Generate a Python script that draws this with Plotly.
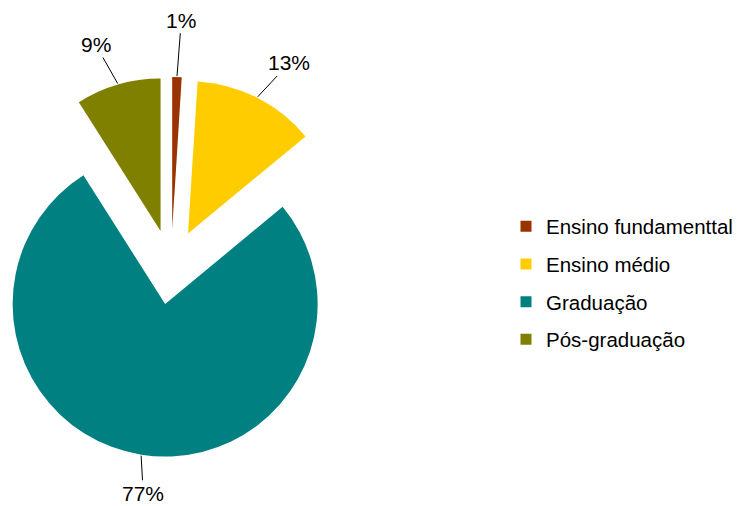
import numpy as np
import plotly.graph_objects as go

# data
categories = ["Ensino fundamenttal", "Ensino médio", "Graduação", "Pós-graduação"]
shares = [1, 13, 77, 9]
colors = ["#993300", "#FFCC00", "#008080", "#808000"]

# layout constants (page pixels); the page body has an 8px margin
OFF = 8
W, H = 743 - OFF, 506 - OFF
CX, CY = 171, 267      # pie centre before the slices are pulled out
R = 152.5              # pie radius
EXPLODE = 37.5         # how far every slice is pulled out
label_gap = [57, 46, 38, 45]       # distance of label beyond the rim
label_turn = [0.7, 3.7, -2.4, -3]  # small angle nudges for the labels (deg)


def px(x, y):
    # page pixel -> paper coordinates
    return (x - OFF) / W, 1 - (y - OFF) / H


vals = np.array(shares, dtype=float)
frac = vals / vals.sum()
start = np.concatenate([[0], np.cumsum(frac)[:-1]])
mid_deg = (start + frac / 2) * 360
mid = np.radians(mid_deg)
ux, uy = np.sin(mid), -np.cos(mid)

fig = go.Figure()
annotations = []
for i, cat in enumerate(categories):
    # each slice is drawn by its own pie trace so it can sit at its own centre
    cx = CX + EXPLODE * ux[i]
    cy = CY + EXPLODE * uy[i]
    slice_colors = ["rgba(0,0,0,0)"] * len(categories)
    slice_colors[i] = colors[i]
    x0, y1 = px(cx - R, cy - R)
    x1, y0 = px(cx + R, cy + R)
    fig.add_trace(go.Pie(
        labels=categories, values=shares, sort=False,
        direction="clockwise", rotation=0,
        marker=dict(colors=slice_colors, line=dict(width=0)),
        textinfo="none", hoverinfo="skip", showlegend=False,
        domain=dict(x=[x0, x1], y=[y0, y1]),
    ))

    # percentage label with a leader line
    a = np.radians(mid_deg[i] + label_turn[i])
    hx, hy = cx + (R + 1) * ux[i], cy + (R + 1) * uy[i]
    tx, ty = cx + (R + label_gap[i]) * np.sin(a), cy - (R + label_gap[i]) * np.cos(a)
    ax_, ay_ = px(hx, hy)
    annotations.append(dict(
        x=ax_, y=ay_, xref="paper", yref="paper",
        ax=tx - hx, ay=ty - hy, axref="pixel", ayref="pixel",
        text=f"{shares[i]}%", showarrow=True, arrowhead=0, arrowwidth=1,
        arrowcolor="#000000", standoff=0,
        font=dict(size=21, color="#000000"),
    ))

# legend entries
for cat, col in zip(categories, colors):
    fig.add_trace(go.Scatter(
        x=[None], y=[None], mode="markers", name=cat, legendgroup=cat,
        marker=dict(symbol="square", size=11, color=col),
    ))

lx, ly = px(506, 283)
fig.update_layout(
    width=W, height=H,
    margin=dict(l=0, r=0, t=0, b=0, autoexpand=False),
    paper_bgcolor="white", plot_bgcolor="white",
    font=dict(family="Liberation Sans, Arial, sans-serif", size=21, color="#000000"),
    xaxis=dict(visible=False), yaxis=dict(visible=False),
    annotations=annotations,
    legend=dict(
        x=lx, y=ly, xanchor="left", yanchor="middle",
        font=dict(size=20.5, color="#000000"),
        traceorder="grouped", tracegroupgap=8,
        bgcolor="rgba(0,0,0,0)",
    ),
)

fig.write_html("out.html")
